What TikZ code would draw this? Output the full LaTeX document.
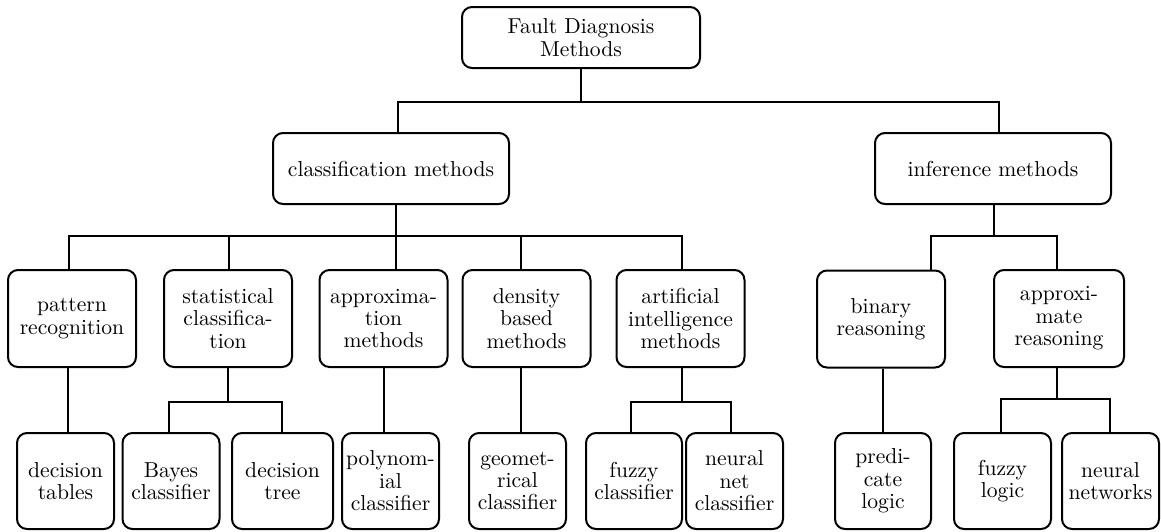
\documentclass[tikz,border=0pt]{standalone}
\usepackage{amsmath}
\usepackage{tikz}

\begin{document}
\begin{tikzpicture}[x=0.5pt, y=-0.5pt, line width=1pt,
	box/.style={draw, rounded corners=5pt, align=center, inner sep=1pt, font=\fontsize{10.8}{11.2}\selectfont},
	main/.style={box, minimum width=118pt, minimum height=35.5pt},
	group/.style={box, minimum width=64pt, minimum height=48.5pt},
	leaf/.style={box, minimum width=48.5pt, minimum height=48pt}]
	
	\useasboundingbox (0,0) rectangle (1161,531);
	
	% top levels
	\node[main, minimum width=119pt, minimum height=30.5pt] (root) at (581,37.5) {Fault Diagnosis\\Methods};
	\node[main] (cls) at (391,168.5) {classification methods};
	\node[main] (inf) at (993,168.5) {inference methods};
	
	% method groups
	\node[group] (pat) at (72,318.5) {pattern\\recognition};
	\node[group] (stat) at (228,318.5) {statistical\\classifica-\\tion};
	\node[group] (aprx) at (383.5,318.5) {approxima-\\tion\\methods};
	\node[group] (dens) at (526.5,318.5) {density\\based\\methods};
	\node[group] (ai) at (680.5,318.5) {artificial\\intelligence\\methods};
	\node[group] (bin) at (881,319) {binary\\reasoning};
	\node[group, minimum width=65pt] (apr) at (1059,318.5) {approxi-\\mate\\reasoning};
	
	% leaves
	\node[leaf] (dtab) at (65.5,481) {decision\\tables};
	\node[leaf] (bay) at (171,481) {Bayes\\classifier};
	\node[leaf, minimum width=50.5pt] (dtree) at (282.5,481) {decision\\tree};
	\node[leaf] (poly) at (390.5,481) {polynom-\\ial\\classifier};
	\node[leaf] (geo) at (517.5,481) {geomet-\\rical\\classifier};
	\node[leaf, minimum width=48pt] (fcl) at (634,481) {fuzzy\\classifier};
	\node[leaf] (ncl) at (734.5,481) {neural\\net\\classifier};
	\node[leaf, minimum width=48pt] (pred) at (883,481) {predi-\\cate\\logic};
	\node[leaf] (flog) at (1002.5,481) {fuzzy\\logic};
	\node[leaf] (nnet) at (1110.5,481) {neural\\networks};
	
	% root branches
	\coordinate (r1) at (398,102);
	\coordinate (r2) at (999,102);
	\draw (root.south) -- (root.south |- r1);
	\draw (r1 |- cls.north) |- (r2) -- (r2 |- inf.north);
	
	% classification branches
	\coordinate (c0) at (396,236);
	\coordinate (c1) at (69,236);
	\coordinate (c2) at (229,236);
	\coordinate (c3) at (521,236);
	\coordinate (c4) at (682,236);
	\draw (c0 |- cls.south) -- (c0);
	\draw (c1 |- pat.north) |- (c4) -- (c4 |- ai.north);
	\draw (c2) -- (c2 |- stat.north);
	\draw (c0) -- (c0 |- aprx.north);
	\draw (c3) -- (c3 |- dens.north);
	
	% inference branches
	\coordinate (i0) at (994,236);
	\coordinate (i1) at (931,236);
	\coordinate (i2) at (1057,236);
	\draw (i0 |- inf.south) -- (i0);
	\draw (i1 |- bin.north) |- (i2) -- (i2 |- apr.north);
	
	% single leaves
	\coordinate (p1) at (68,400);
	\coordinate (p2) at (384,400);
	\coordinate (p3) at (521,400);
	\coordinate (p4) at (883,400);
	\draw (p1 |- pat.south) -- (p1 |- dtab.north);
	\draw (p2 |- aprx.south) -- (p2 |- poly.north);
	\draw (p3 |- dens.south) -- (p3 |- geo.north);
	\draw (p4 |- bin.south) -- (p4 |- pred.north);
	
	% pairs of leaves
	\coordinate (s0) at (228,402);
	\coordinate (s1) at (169,402);
	\coordinate (s2) at (282,402);
	\draw (s0 |- stat.south) -- (s0);
	\draw (s1 |- bay.north) |- (s2) -- (s2 |- dtree.north);
	
	\coordinate (a0) at (682,402);
	\coordinate (a1) at (631,402);
	\coordinate (a2) at (731,402);
	\draw (a0 |- ai.south) -- (a0);
	\draw (a1 |- fcl.north) |- (a2) -- (a2 |- ncl.north);
	
	\coordinate (m0) at (1057,399);
	\coordinate (m1) at (1001,399);
	\coordinate (m2) at (1110,399);
	\draw (m0 |- apr.south) -- (m0);
	\draw (m1 |- flog.north) |- (m2) -- (m2 |- nnet.north);
\end{tikzpicture}
\end{document}
